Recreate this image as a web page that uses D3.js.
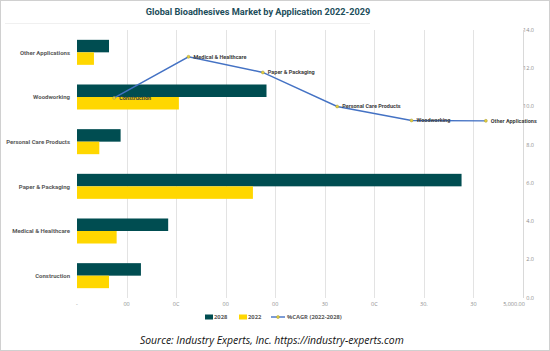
<!DOCTYPE html>
<html>
<head>
<meta charset="utf-8">
<script src="https://cdn.jsdelivr.net/npm/d3@7"></script>
<style>
  body { margin: 0; background: #fff; }
  svg { display: block; }
</style>
</head>
<body>
<svg id="svg" width="550" height="351"></svg>
<script>
const categories = ['Construction', 'Medical & Healthcare', 'Paper & Packaging', 'Personal Care Products', 'Woodworking', 'Other Applications']
const values2028 = [645, 920, 3880, 440, 1912, 323]
const values2022 = [323, 400, 1775, 225, 1028, 171]
const cagr = [10.45, 12.6, 11.78, 10.0, 9.27, 9.25]
const xTickValues = [0, 500, 1000, 1500, 2000, 2500, 3000, 3500, 4000, 4500]
const xTickLabels = ['-', '00', '0C', '00', '00', '30', '0C', '30.', '30', '5,000.00']
const yRightTicks = [0, 2, 4, 6, 8, 10, 12, 14]
const series = ['2028', '2022']
const seriesColors = { '2028': '#004d51', '2022': '#ffd700' }

const width = 550
const height = 351
const plotLeft = 77
const plotRight = 523
const plotTop = 30
const plotBottom = 298

const svg = d3.select('#svg')
const font = "'Open Sans', sans-serif"
const narrow = "Roboto, sans-serif"

svg.append('rect')
  .attr('x', 0.5).attr('y', 0.5)
  .attr('width', width - 1).attr('height', height - 1)
  .attr('fill', '#fff').attr('stroke', '#d0d0d0')

svg.append('line')
  .attr('x1', 5).attr('x2', 370).attr('y1', 23.5).attr('y2', 23.5)
  .attr('stroke', '#f0f0f0')

svg.append('text')
  .attr('x', 258).attr('y', 14.5)
  .attr('text-anchor', 'middle')
  .attr('font-family', narrow).attr('font-weight', 700).attr('font-size', 9.2)
  .attr('fill', '#1d4e5b')
  .text('Global Bioadhesives Market by Application 2022-2029')

const xScale = d3.scaleLinear().domain([0, 4500]).range([plotLeft, plotRight])
const yScale = d3.scaleBand()
  .domain(categories.slice().reverse())
  .range([plotTop, plotBottom])
  .paddingInner(0.44)
  .paddingOuter(0.22)
const subScale = d3.scaleBand().domain(series).range([0, yScale.bandwidth()])
const cagrY = d3.scaleLinear().domain([0, 14]).range([297.7, 30])
const cagrX = d3.scalePoint().domain(categories).range([plotLeft, plotRight]).padding(0.5)

// grid
svg.append('g').selectAll('line')
  .data(xTickValues.slice(1))
  .join('line')
  .attr('x1', d => Math.round(xScale(d)) + 0.5)
  .attr('x2', d => Math.round(xScale(d)) + 0.5)
  .attr('y1', plotTop).attr('y2', plotBottom)
  .attr('stroke', '#e3e3e3')

// x tick labels
svg.append('g').selectAll('text')
  .data(xTickValues)
  .join('text')
  .attr('x', d => xScale(d) + (d === 4500 ? -9 : 0))
  .attr('y', 306)
  .attr('text-anchor', 'middle')
  .attr('font-family', font).attr('font-size', 5.5)
  .attr('fill', '#8c8c8c')
  .text((d, i) => xTickLabels[i])

// category labels
svg.append('g').selectAll('text')
  .data(categories)
  .join('text')
  .attr('x', 70)
  .attr('y', d => yScale(d) + yScale.bandwidth() / 2 + 2.3)
  .attr('text-anchor', 'end')
  .attr('font-family', narrow).attr('font-weight', 700).attr('font-size', 6.0)
  .attr('fill', '#595959')
  .text(d => d)

// bars
const rows = categories.map((c, i) => ({ c, '2028': values2028[i], '2022': values2022[i] }))
svg.append('g').selectAll('g')
  .data(rows)
  .join('g')
  .attr('transform', d => `translate(0, ${yScale(d.c)})`)
  .selectAll('rect')
  .data(d => series.map(s => ({ s, v: d[s] })))
  .join('rect')
  .attr('x', xScale(0))
  .attr('y', d => subScale(d.s))
  .attr('width', d => xScale(d.v) - xScale(0))
  .attr('height', subScale.bandwidth())
  .attr('fill', d => seriesColors[d.s])

// right axis
svg.append('line')
  .attr('x1', plotRight + 0.5).attr('x2', plotRight + 0.5)
  .attr('y1', plotTop).attr('y2', plotBottom)
  .attr('stroke', '#d9d9d9')
svg.append('g').selectAll('text')
  .data(yRightTicks)
  .join('text')
  .attr('x', 534)
  .attr('y', d => cagrY(d) + 2)
  .attr('text-anchor', 'end')
  .attr('font-family', font).attr('font-size', 5.5)
  .attr('fill', '#8c8c8c')
  .text(d => d.toFixed(1))

// CAGR line
const points = categories.map((c, i) => ({ c, v: cagr[i] }))
const lineGen = d3.line().x(d => cagrX(d.c)).y(d => cagrY(d.v))
svg.append('path')
  .attr('d', lineGen(points))
  .attr('fill', 'none')
  .attr('stroke', '#4472c4')
  .attr('stroke-width', 1.4)
svg.append('g').selectAll('circle')
  .data(points)
  .join('circle')
  .attr('cx', d => cagrX(d.c))
  .attr('cy', d => cagrY(d.v))
  .attr('r', 1.5)
  .attr('fill', '#e6cf3c')
  .attr('stroke', '#a59a3a')
  .attr('stroke-width', 0.5)
svg.append('g').selectAll('text')
  .data(points)
  .join('text')
  .attr('x', d => cagrX(d.c) + 5)
  .attr('y', d => cagrY(d.v) + 2)
  .attr('font-family', narrow).attr('font-weight', 700).attr('font-size', 5.5)
  .attr('fill', '#404040')
  .text(d => d.c)

// legend
const legend = svg.append('g').attr('transform', 'translate(0, 317)')
const legendItems = [
  { label: '2028', x: 205, color: seriesColors['2028'] },
  { label: '2022', x: 239, color: seriesColors['2022'] }
]
legendItems.forEach(d => {
  legend.append('rect').attr('x', d.x).attr('y', -2.5).attr('width', 8).attr('height', 5).attr('fill', d.color)
  legend.append('text').attr('x', d.x + 9).attr('y', 2.2)
    .attr('font-family', font).attr('font-weight', 700).attr('font-size', 5.8)
    .attr('fill', '#595959').text(d.label)
})
legend.append('line').attr('x1', 271).attr('x2', 285).attr('y1', 0).attr('y2', 0)
  .attr('stroke', '#4472c4').attr('stroke-width', 1.4)
legend.append('circle').attr('cx', 278).attr('cy', 0).attr('r', 1.5)
  .attr('fill', '#e6cf3c').attr('stroke', '#a59a3a').attr('stroke-width', 0.5)
legend.append('text').attr('x', 287).attr('y', 2.2)
  .attr('font-family', font).attr('font-weight', 700).attr('font-size', 5.8)
  .attr('fill', '#595959').text('%CAGR (2022-2028)')

svg.append('text')
  .attr('x', 140).attr('y', 344)
  .attr('font-family', font).attr('font-style', 'italic').attr('font-size', 10.4)
  .attr('fill', '#111')
  .text('Source: Industry Experts, Inc. https://industry-experts.com')
</script>
</body>
</html>
